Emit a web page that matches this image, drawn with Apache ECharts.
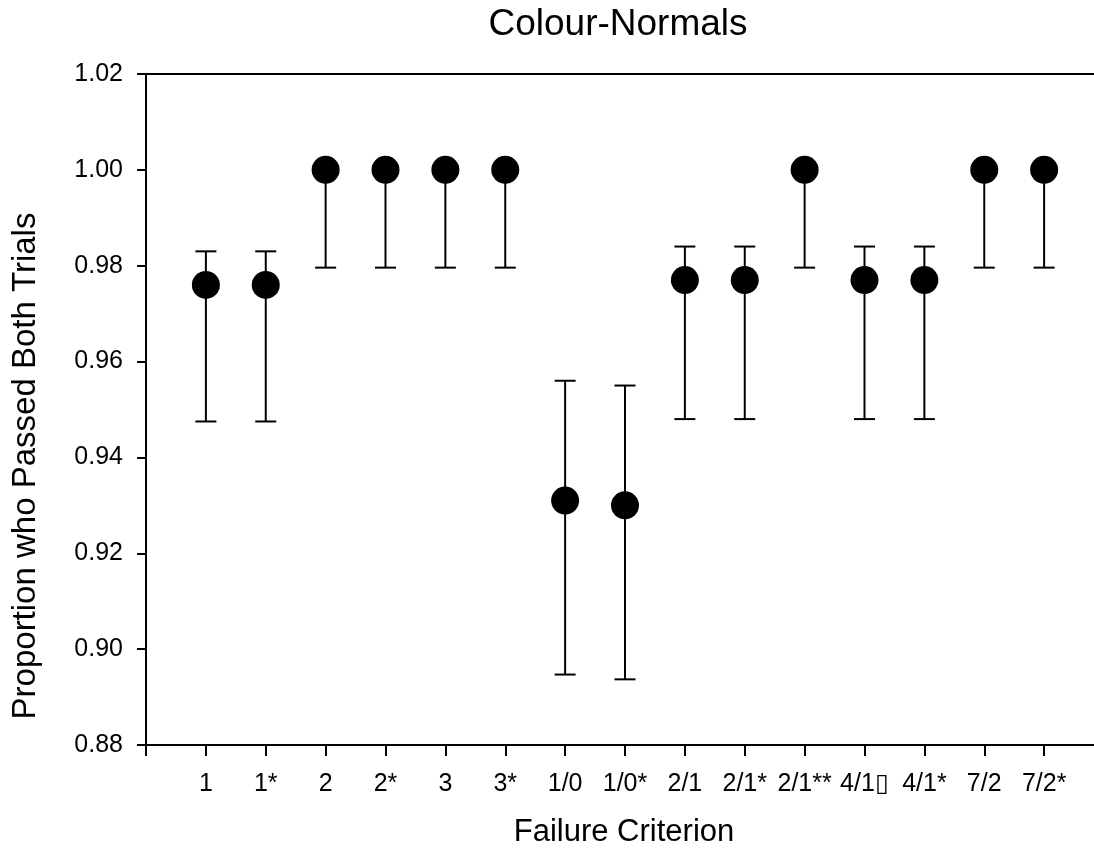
<!DOCTYPE html>
<html>
<head>
<meta charset="utf-8">
<script src="https://cdn.jsdelivr.net/npm/echarts@6/dist/echarts.min.js"></script>
<style>
  html, body { margin: 0; padding: 0; background: #fff; }
  #chart { width: 1094px; height: 853px; }
</style>
</head>
<body>
<div id="chart"></div>
<script>
// failure criteria along the x axis
const categories = ['1', '1*', '2', '2*', '3', '3*', '1/0', '1/0*', '2/1', '2/1*', '2/1**', '4/1\u25AF', '4/1*', '7/2', '7/2*'];
// proportion who passed both trials, with the ends of the error bars
const means = [0.976, 0.976, 1.0, 1.0, 1.0, 1.0, 0.931, 0.930, 0.977, 0.977, 1.0, 0.977, 0.977, 1.0, 1.0];
const upper = [0.983, 0.983, 1.0, 1.0, 1.0, 1.0, 0.956, 0.955, 0.984, 0.984, 1.0, 0.984, 0.984, 1.0, 1.0];
const lower = [0.9475, 0.9475, 0.9796, 0.9796, 0.9796, 0.9796, 0.8947, 0.8937, 0.948, 0.948, 0.9796, 0.948, 0.948, 0.9796, 0.9796];
const yTicks = [0.88, 0.90, 0.92, 0.94, 0.96, 0.98, 1.00, 1.02];

const FONT = '"Liberation Sans", Arial, sans-serif';

const chart = echarts.init(document.getElementById('chart'), null, { renderer: 'canvas' });

const points = means.map((v, i) => [i + 1, v]);
const bars = means.map((v, i) => [i + 1, lower[i], upper[i]]);

chart.setOption({
  animation: false,
  backgroundColor: '#fff',
  // the plot runs on past the right edge of the picture, as in the original
  grid: {
    left: 146, top: 74, width: 958, height: 671,
    outerBoundsMode: 'none',
    show: true, borderColor: '#000', borderWidth: 2
  },
  xAxis: {
    type: 'value',
    min: 0,
    max: 16,
    interval: 1,
    axisLine: { onZero: false, lineStyle: { color: '#000', width: 2 } },
    axisTick: { length: 11, lineStyle: { color: '#000', width: 2 } },
    splitLine: { show: false },
    axisLabel: {
      margin: 27,
      color: '#000',
      fontFamily: FONT,
      fontSize: 25,
      formatter: v => (v >= 1 && v <= categories.length ? categories[v - 1] : '')
    }
  },
  yAxis: {
    type: 'value',
    min: yTicks[0],
    max: yTicks[yTicks.length - 1],
    interval: 0.02,
    axisLine: { show: true, lineStyle: { color: '#000', width: 2 } },
    axisTick: { show: true, length: 9, lineStyle: { color: '#000', width: 2 } },
    splitLine: { show: false },
    axisLabel: {
      margin: 23,
      color: '#000',
      fontFamily: FONT,
      fontSize: 25,
      formatter: v => v.toFixed(2)
    }
  },
  graphic: [
    {
      type: 'text', x: 618, y: 25,
      style: { text: 'Colour-Normals', font: '37px ' + FONT, fill: '#000', textAlign: 'center', textVerticalAlign: 'middle' }
    },
    {
      type: 'text', x: 624, y: 832,
      style: { text: 'Failure Criterion', font: '31px ' + FONT, fill: '#000', textAlign: 'center', textVerticalAlign: 'middle' }
    },
    {
      type: 'text', x: 26, y: 466, rotation: Math.PI / 2,
      style: { text: 'Proportion who Passed Both Trials', font: '33px ' + FONT, fill: '#000', textAlign: 'center', textVerticalAlign: 'middle' }
    }
  ],
  series: [
    {
      type: 'custom',
      z: 1,
      data: bars,
      renderItem(params, api) {
        const x = api.value(0);
        const lo = api.coord([x, api.value(1)]);
        const hi = api.coord([x, api.value(2)]);
        const hw = 10.5;
        const style = { stroke: '#000', lineWidth: 2 };
        return {
          type: 'group',
          children: [
            { type: 'line', shape: { x1: hi[0], y1: hi[1], x2: lo[0], y2: lo[1] }, style },
            { type: 'line', shape: { x1: hi[0] - hw, y1: hi[1], x2: hi[0] + hw, y2: hi[1] }, style },
            { type: 'line', shape: { x1: lo[0] - hw, y1: lo[1], x2: lo[0] + hw, y2: lo[1] }, style }
          ]
        };
      }
    },
    {
      type: 'scatter',
      z: 3,
      symbol: 'circle',
      symbolSize: 28,
      itemStyle: { color: '#000', opacity: 1 },
      data: points
    }
  ]
});
</script>
</body>
</html>
